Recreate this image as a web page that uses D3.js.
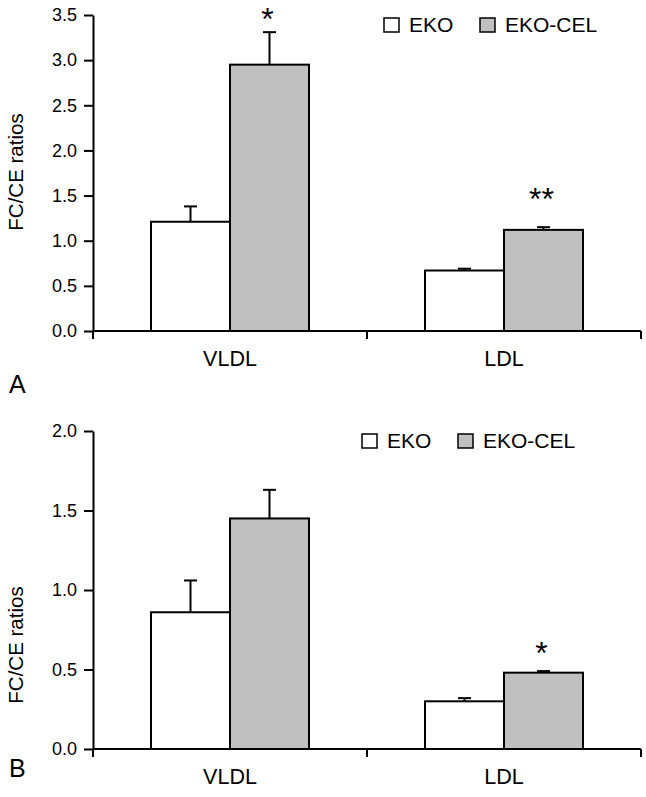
<!DOCTYPE html>
<html><head><meta charset="utf-8">
<script src="https://cdn.jsdelivr.net/npm/d3@7"></script>
<style>body{margin:0;background:#fff}svg{display:block}text{font-family:"Liberation Sans",Arial,Helvetica,sans-serif;fill:#000}</style>
</head><body><div id="chart"></div>
<script>
const categories = ["VLDL", "LDL"];
const groups = ["EKO", "EKO-CEL"];
const colors = ["#ffffff", "#c0c0c0"];
// Panel A
const aValues = {EKO: [1.21, 0.67], "EKO-CEL": [2.95, 1.12]};
const aErrTop = {EKO: [1.38, 0.69], "EKO-CEL": [3.31, 1.15]};
const aTicks = [0, 0.5, 1.0, 1.5, 2.0, 2.5, 3.0, 3.5];
const aStars = [{cat: "VLDL", g: "EKO-CEL", label: "*", at: 3.52}, {cat: "LDL", g: "EKO-CEL", label: "**", at: 1.53}];
// Panel B
const bValues = {EKO: [0.86, 0.30], "EKO-CEL": [1.45, 0.48]};
const bErrTop = {EKO: [1.06, 0.32], "EKO-CEL": [1.63, 0.49]};
const bTicks = [0, 0.5, 1.0, 1.5, 2.0];
const bStars = [{cat: "LDL", g: "EKO-CEL", label: "*", at: 0.64}];

const W = 646, H = 797;
const svg = d3.select("#chart").append("svg").attr("width", W).attr("height", H);

function panel(cfg) {
  const g = svg.append("g");
  const x = d3.scaleBand().domain(categories).range([93, 641]).padding(0);
  const xs = d3.scaleBand().domain(groups).range([58, 216]).padding(0);
  const y = d3.scaleLinear().domain([0, cfg.max]).range([cfg.bottom, cfg.top]);

  // bars
  groups.forEach((grp, gi) => {
    categories.forEach((c, ci) => {
      const v = cfg.values[grp][ci];
      const x0 = x(c) + xs(grp);
      g.append("rect").attr("x", x0).attr("y", y(v)).attr("width", xs.bandwidth()).attr("height", y(0) - y(v))
        .attr("fill", colors[gi]).attr("stroke", "#000").attr("stroke-width", 2);
      const cx = x0 + xs.bandwidth() / 2;
      const et = cfg.err[grp][ci];
      g.append("line").attr("x1", cx).attr("x2", cx).attr("y1", y(v)).attr("y2", y(et)).attr("stroke", "#000").attr("stroke-width", 2);
      g.append("line").attr("x1", cx - 6.5).attr("x2", cx + 6.5).attr("y1", y(et)).attr("y2", y(et)).attr("stroke", "#000").attr("stroke-width", 2);
    });
  });

  // y axis
  const ya = g.append("g").attr("transform", "translate(93,0)")
    .call(d3.axisLeft(y).tickValues(cfg.ticks).tickFormat(d3.format(".1f")).tickSize(9).tickSizeOuter(0).tickPadding(7));
  ya.selectAll("text").attr("font-size", 18).style("font-family", '"Liberation Sans",Arial,sans-serif');
  ya.selectAll("line,path").attr("stroke", "#000").attr("stroke-width", 2);
  g.append("line").attr("x1", 93).attr("x2", 93).attr("y1", cfg.bottom).attr("y2", cfg.bottom + 8).attr("stroke", "#000").attr("stroke-width", 2);

  // x axis
  g.append("line").attr("x1", 93).attr("x2", 641).attr("y1", cfg.bottom).attr("y2", cfg.bottom).attr("stroke", "#000").attr("stroke-width", 2);
  categories.forEach(c => {
    const bx = x(c) + x.bandwidth();
    g.append("line").attr("x1", bx).attr("x2", bx).attr("y1", cfg.bottom).attr("y2", cfg.bottom + 8).attr("stroke", "#000").attr("stroke-width", 2);
    g.append("text").attr("x", x(c) + x.bandwidth() / 2).attr("y", cfg.bottom + 35).attr("text-anchor", "middle").attr("font-size", 21.5).text(c);
  });

  // y title
  g.append("text").attr("transform", `translate(23,${cfg.titleY}) rotate(-90)`).attr("text-anchor", "middle").attr("font-size", 20.5).text("FC/CE ratios");

  // stars
  cfg.stars.forEach(s => {
    const cx = x(s.cat) + xs(s.g) + xs.bandwidth() / 2 - 2;
    g.append("text").attr("x", cx).attr("y", y(s.at) + 17).attr("text-anchor", "middle").attr("font-size", 32).text(s.label);
  });

  // legend
  groups.forEach((grp, gi) => {
    const lx = cfg.legX + gi * 96;
    g.append("rect").attr("x", lx).attr("y", cfg.legY - 14).attr("width", 15).attr("height", 14)
      .attr("fill", colors[gi]).attr("stroke", "#000").attr("stroke-width", 1.5);
    g.append("text").attr("x", lx + 25).attr("y", cfg.legY).attr("font-size", 21).text(grp);
  });

  // panel letter
  g.append("text").attr("x", 9).attr("y", cfg.letterY).attr("font-size", 25).text(cfg.letter);
}

panel({values: aValues, err: aErrTop, ticks: aTicks, stars: aStars, max: 3.5, top: 15, bottom: 331, titleY: 172, legX: 384, legY: 32, letter: "A", letterY: 393});
panel({values: bValues, err: bErrTop, ticks: bTicks, stars: bStars, max: 2.0, top: 431, bottom: 749, titleY: 645, legX: 362, legY: 448, letter: "B", letterY: 777});
</script></body></html>
